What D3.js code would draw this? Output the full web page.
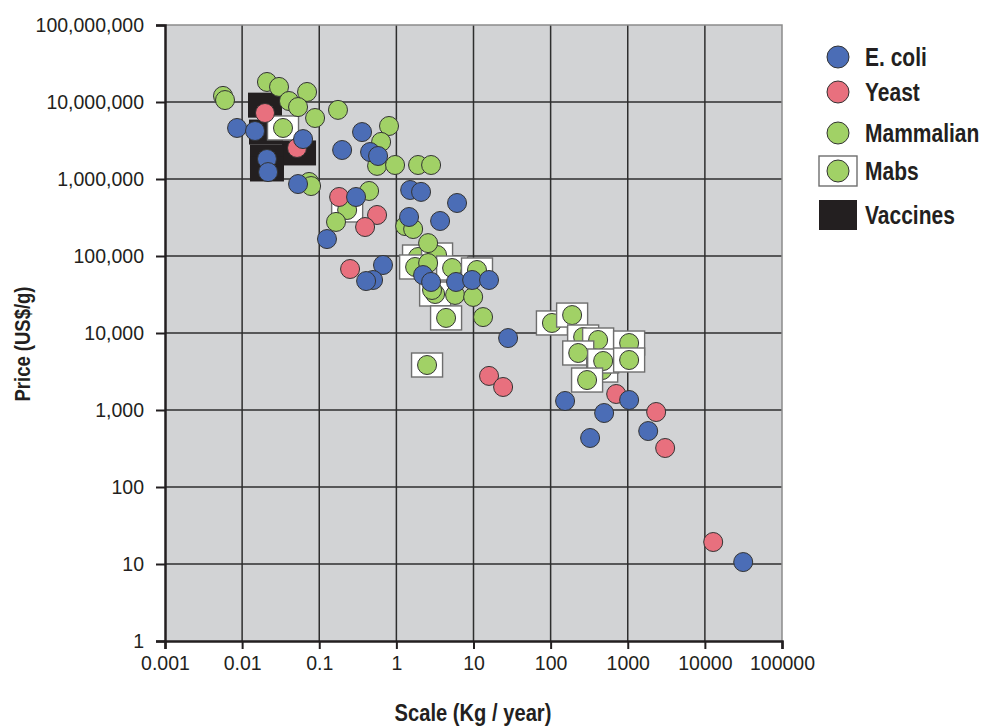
<!DOCTYPE html>
<html>
<head>
<meta charset="utf-8">
<script src="https://cdn.jsdelivr.net/npm/d3@7/dist/d3.min.js"></script>
<style>
  body { margin: 0; background: #fff; }
  .tick text { font-family: "Liberation Sans", Arial, sans-serif; font-size: 19.5px; fill: #231f20; }
  .ttl { font-family: "Liberation Sans", Arial, sans-serif; font-weight: bold; fill: #231f20; }
</style>
</head>
<body>
<svg id="chart"></svg>
<script>
// scale (kg/year), price (US$/g)
var ecoli = [
  [0.0086, 4600000], [0.0147, 4200000], [0.0617, 3300000], [0.021, 1820000], [0.0217, 1230000],
  [0.0531, 860000], [0.198, 2380000], [0.359, 4070000], [0.456, 2240000], [0.579, 1990000],
  [0.30, 584000], [0.126, 166000], [1.51, 720000], [2.09, 680000], [6.12, 488000],
  [1.46, 321000], [3.69, 285000], [0.671, 76400], [0.499, 48800], [0.405, 47300],
  [2.22, 56600], [2.82, 46000], [5.94, 46000], [9.6, 48800], [15.9, 48800],
  [28.1, 8600], [154, 1310], [1042, 1349], [494, 914], [1841, 533], [325, 433], [31400, 10.6]
];
var yeast = [
  [0.0198, 7200000], [0.0515, 2530000], [0.181, 584000], [0.562, 341000], [0.393, 238000],
  [0.251, 67800], [15.9, 2770], [24.2, 1990], [708, 1614], [2335, 942], [3055, 321], [12820, 19.3]
];
var mammalian = [
  [0.00565, 12000000], [0.006, 10600000], [0.021, 18200000], [0.0301, 15700000], [0.0695, 13500000],
  [0.0405, 10300000], [0.0531, 8600000], [0.0883, 6200000], [0.175, 7900000], [0.803, 4880000],
  [0.634, 3030000], [0.562, 1480000], [0.962, 1520000], [1.91, 1520000], [2.82, 1520000],
  [0.0738, 915000], [0.0784, 810000], [0.443, 699000], [0.165, 277000], [1.30, 245000],
  [1.65, 224000], [2.58, 147000], [2.58, 81000], [2.90, 36200], [5.77, 31200], [9.9, 29400], [13.3, 16100]
];
var mabs = [
  [0.0339, 4600000], [0.23, 396000], [1.91, 97000], [3.37, 103000], [1.75, 72000],
  [5.28, 69800], [11.1, 65800], [3.18, 32100], [4.41, 15700], [2.5, 3840],
  [104, 13500], [190, 17100], [264, 8870], [413, 8110], [1042, 7410],
  [228, 5500], [466, 3300], [480, 4330], [1042, 4460], [297, 2450]
];
var vaccines = [
  [0.0198, 9100000], [0.0204, 4070000], [0.0547, 2180000], [0.021, 1930000], [0.021, 1350000]
];

var xTicks = [0.001, 0.01, 0.1, 1, 10, 100, 1000, 10000, 100000];
var xTickLabels = ["0.001", "0.01", "0.1", "1", "10", "100", "1000", "10000", "100000"];
var yTicks = [1, 10, 100, 1000, 10000, 100000, 1000000, 10000000, 100000000];
var yTickLabels = ["1", "10", "100", "1,000", "10,000", "100,000", "1,000,000", "10,000,000", "100,000,000"];

var legendNames = ["E. coli", "Yeast", "Mammalian", "Mabs", "Vaccines"];

var blue = "#4b6db6", red = "#e8707e", green = "#a1d166";
var r = 9.5;

var svg = d3.select("#chart").attr("width", 982).attr("height", 726);

var pL = 165, pR = 782, pT = 25, pB = 641;
var x = d3.scaleLog().domain([0.001, 100000]).range([pL, pR]);
var y = d3.scaleLog().domain([1, 100000000]).range([pB, pT]);

// plot background
svg.append("rect")
  .attr("x", pL).attr("y", pT)
  .attr("width", pR - pL).attr("height", pB - pT)
  .attr("fill", "#d2d3d5");

// grid
svg.append("g")
  .selectAll("line")
  .data(xTicks.slice(1, -1))
  .enter().append("line")
  .attr("x1", function(d) { return x(d); }).attr("x2", function(d) { return x(d); })
  .attr("y1", pT).attr("y2", pB)
  .attr("stroke", "#2e2e2e").attr("stroke-width", 1.5);
svg.append("g")
  .selectAll("line")
  .data(yTicks.slice(1, -1))
  .enter().append("line")
  .attr("y1", function(d) { return y(d); }).attr("y2", function(d) { return y(d); })
  .attr("x1", pL).attr("x2", pR)
  .attr("stroke", "#2e2e2e").attr("stroke-width", 1.5);

// top / right border
svg.append("path")
  .attr("d", "M" + pL + "," + pT + "H" + pR + "V" + pB)
  .attr("fill", "none").attr("stroke", "#8c8c8c").attr("stroke-width", 1.5);

// vaccines (under everything)
svg.append("g").selectAll("rect")
  .data(vaccines)
  .enter().append("rect")
  .attr("x", function(d) { return x(d[0]) - 17; })
  .attr("y", function(d) { return y(d[1]) - 12.5; })
  .attr("width", 34).attr("height", 25)
  .attr("fill", "#231f20");

// mabs: circle in a white box
var mab = svg.append("g").selectAll("g")
  .data(mabs)
  .enter().append("g")
  .attr("transform", function(d) { return "translate(" + x(d[0]) + "," + y(d[1]) + ")"; });
mab.append("rect")
  .attr("x", -15.5).attr("y", -12).attr("width", 31).attr("height", 24)
  .attr("fill", "#fff").attr("stroke", "#6e6e6e").attr("stroke-width", 1.4);
mab.append("circle")
  .attr("r", r).attr("fill", green).attr("stroke", "#333").attr("stroke-width", 1);

function dots(data, color) {
  svg.append("g").selectAll("circle")
    .data(data)
    .enter().append("circle")
    .attr("cx", function(d) { return x(d[0]); })
    .attr("cy", function(d) { return y(d[1]); })
    .attr("r", r)
    .attr("fill", color)
    .attr("stroke", "#333")
    .attr("stroke-width", 1);
}
dots(mammalian, green);
dots(yeast, red);
dots(ecoli, blue);

// axes
var xAxis = d3.axisBottom(x).tickValues(xTicks)
  .tickFormat(function(d, i) { return xTickLabels[i]; })
  .tickSize(8).tickPadding(7);
var yAxis = d3.axisLeft(y).tickValues(yTicks)
  .tickFormat(function(d, i) { return yTickLabels[i]; })
  .tickSize(9).tickPadding(12);

var gx = svg.append("g").attr("transform", "translate(0," + pB + ")").call(xAxis);
var gy = svg.append("g").attr("transform", "translate(" + pL + ",0)").call(yAxis);
[gx, gy].forEach(function(g) {
  g.select(".domain").attr("stroke", "#231f20").attr("stroke-width", 2.5);
  g.selectAll(".tick line").attr("stroke", "#231f20").attr("stroke-width", 2);
});

// axis titles (condensed look via horizontal scale)
svg.append("g").attr("transform", "translate(30,344) rotate(-90) scale(0.84,1)")
  .append("text").attr("class", "ttl")
  .attr("text-anchor", "middle").attr("font-size", 22)
  .text("Price (US$/g)");
svg.append("g").attr("transform", "translate(473,721) scale(0.84,1)")
  .append("text").attr("class", "ttl")
  .attr("text-anchor", "middle").attr("font-size", 24)
  .text("Scale (Kg / year)");

// legend
var lg = svg.append("g");
var ly = [57, 92, 133, 171, 215];
lg.append("circle").attr("cx", 838).attr("cy", ly[0]).attr("r", 11).attr("fill", blue).attr("stroke", "#333");
lg.append("circle").attr("cx", 838).attr("cy", ly[1]).attr("r", 11).attr("fill", red).attr("stroke", "#333");
lg.append("circle").attr("cx", 838).attr("cy", ly[2]).attr("r", 11).attr("fill", green).attr("stroke", "#333");
lg.append("rect").attr("x", 819).attr("y", 156).attr("width", 38).attr("height", 30)
  .attr("fill", "#fff").attr("stroke", "#6e6e6e").attr("stroke-width", 1.4);
lg.append("circle").attr("cx", 838).attr("cy", ly[3]).attr("r", 11).attr("fill", green).attr("stroke", "#333");
lg.append("rect").attr("x", 819).attr("y", 200).attr("width", 38).attr("height", 30).attr("fill", "#231f20");
lg.selectAll("g.item")
  .data(legendNames)
  .enter().append("g")
  .attr("transform", function(d, i) { return "translate(865," + (ly[i] + 9) + ") scale(0.84,1)"; })
  .append("text")
  .attr("class", "ttl")
  .attr("font-size", 25)
  .text(function(d) { return d; });
</script>
</body>
</html>
